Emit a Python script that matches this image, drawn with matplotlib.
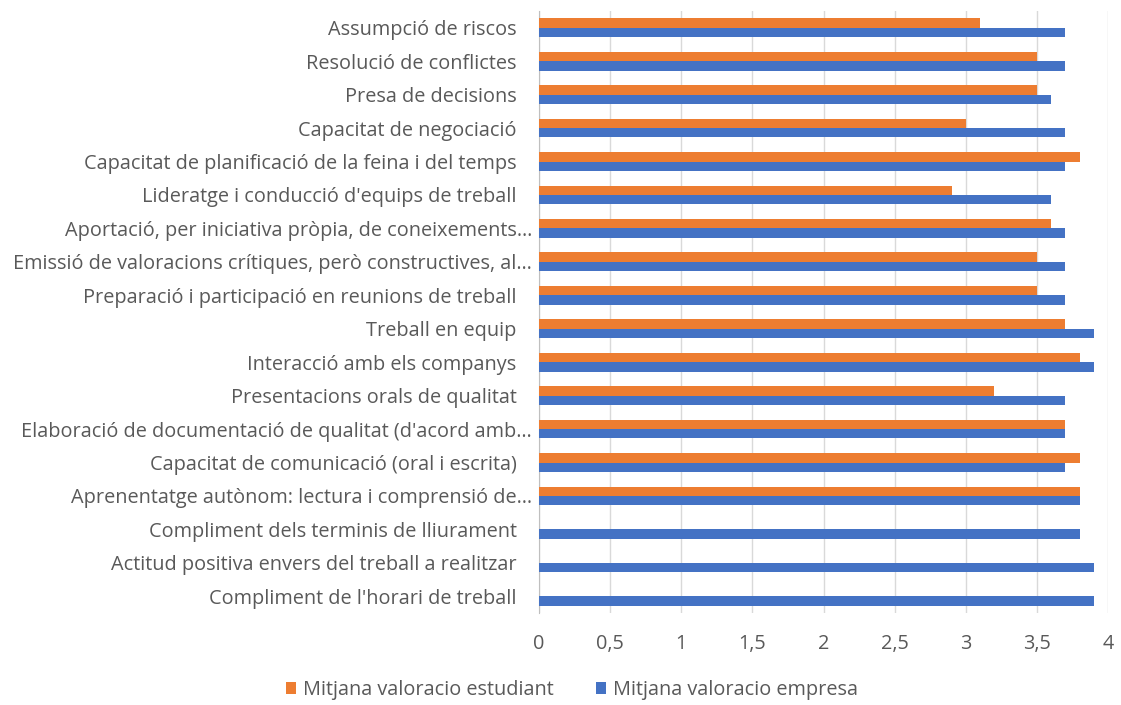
import numpy as np
import matplotlib.pyplot as plt
from matplotlib.ticker import FuncFormatter

# Categories, top to bottom (Excel appends a little space after untruncated labels)
categories = [
    "Assumpció de riscos",
    "Resolució de conflictes",
    "Presa de decisions",
    "Capacitat de negociació",
    "Capacitat de planificació de la feina i del temps",
    "Lideratge i conducció d'equips de treball",
    "Aportació, per iniciativa pròpia, de coneixements…",
    "Emissió de valoracions crítiques, però constructives, al…",
    "Preparació i participació en reunions de treball",
    "Treball en equip",
    "Interacció amb els companys",
    "Presentacions orals de qualitat",
    "Elaboració de documentació de qualitat (d'acord amb…",
    "Capacitat de comunicació (oral i escrita)",
    "Aprenentatge autònom: lectura i comprensió de…",
    "Compliment dels terminis de lliurament",
    "Actitud positiva envers del treball a realitzar",
    "Compliment de l'horari de treball",
]
estudiant = [3.1, 3.5, 3.5, 3.0, 3.8, 2.9, 3.6, 3.5, 3.5, 3.7, 3.8, 3.2, 3.7, 3.8, 3.8, 0, 0, 0]
empresa = [3.7, 3.7, 3.6, 3.7, 3.7, 3.6, 3.7, 3.7, 3.7, 3.9, 3.9, 3.7, 3.7, 3.7, 3.8, 3.8, 3.9, 3.9]

plt.rcParams['font.family'] = ['Open Sans', 'DejaVu Sans']
fs = 14.3
grey = '#595959'

fig = plt.figure(figsize=(11.21, 7.05), dpi=100)
ax = fig.add_axes([539 / 1121, 1 - 613 / 705, (1108 - 539) / 1121, (613 - 11) / 705])

y = np.arange(len(categories))
h = 0.28
ax.barh(y - h / 2, estudiant, height=h, color='#ED7D31', label='Mitjana valoracio estudiant', zorder=3)
ax.barh(y + h / 2, empresa, height=h, color='#4472C4', label='Mitjana valoracio empresa', zorder=3)

ax.set_ylim(len(categories) - 0.5, -0.5)
ax.set_xlim(0, 4)
ax.set_xticks(np.arange(0, 4.01, 0.5))
ax.xaxis.set_major_formatter(FuncFormatter(lambda v, p: f"{v:g}".replace('.', ',')))
ax.set_yticks(y)
ax.set_yticklabels([c if c.endswith('…') else c + '   ' for c in categories])

ax.grid(axis='x', color='#d9d9d9', linewidth=1, zorder=0)
for s in ['top', 'right', 'bottom']:
    ax.spines[s].set_visible(False)
ax.spines['left'].set_color('#bfbfbf')
ax.tick_params(axis='y', length=0, pad=5, labelsize=fs, labelcolor=grey)
ax.tick_params(axis='x', length=0, pad=15, labelsize=fs, labelcolor=grey)

ax.legend(loc='center', bbox_to_anchor=(0.058, -0.128), ncol=2,
          frameon=False, fontsize=fs, labelcolor=grey, handlelength=0.5,
          handleheight=0.5, columnspacing=2.1, handletextpad=0.35)

fig.savefig('out.png', dpi=100)
